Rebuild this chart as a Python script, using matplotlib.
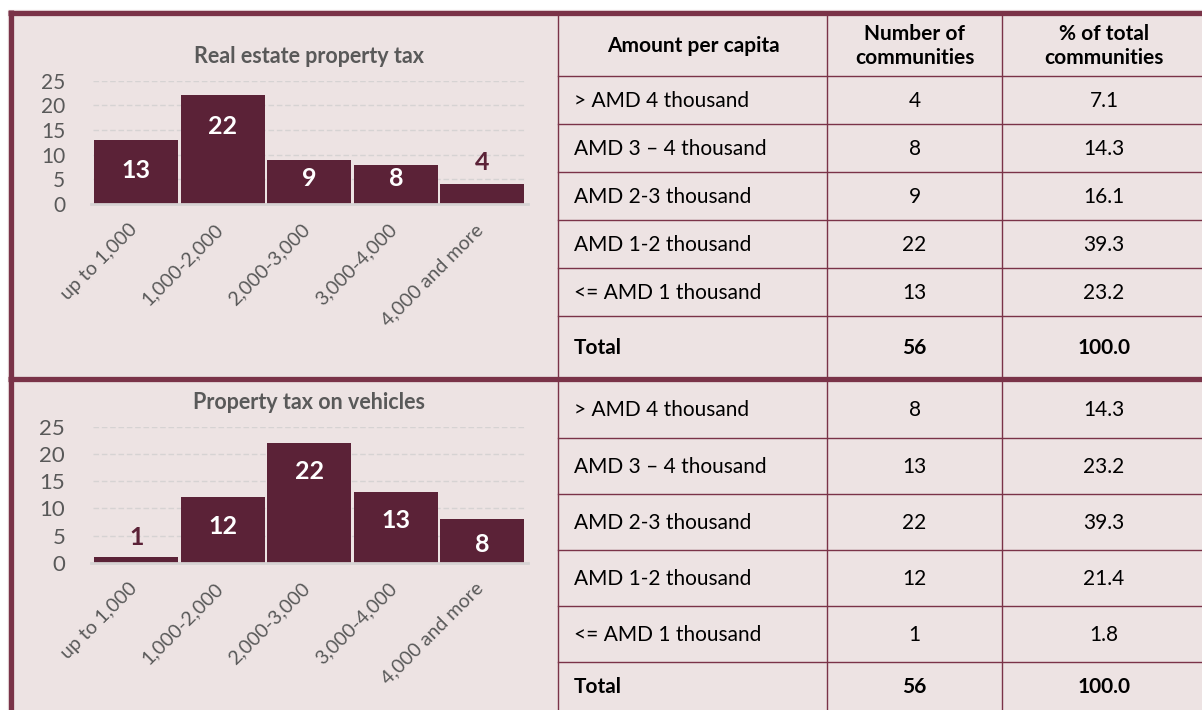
import matplotlib
matplotlib.use("Agg")
import matplotlib.pyplot as plt
import matplotlib.transforms as mtransforms

# ---- data ----
categories = ["up to 1,000", "1,000-2,000", "2,000-3,000", "3,000-4,000", "4,000 and more"]
real_estate_counts = [13, 22, 9, 8, 4]
vehicle_counts = [1, 12, 22, 13, 8]

table_header = ["Amount per capita", "Number of\ncommunities", "% of total\ncommunities"]
row_labels = ["> AMD 4 thousand", "AMD 3 \u2013 4 thousand", "AMD 2-3 thousand",
              "AMD 1-2 thousand", "<= AMD 1 thousand", "Total"]
real_estate_num = ["4", "8", "9", "22", "13", "56"]
real_estate_pct = ["7.1", "14.3", "16.1", "39.3", "23.2", "100.0"]
vehicle_num = ["8", "13", "22", "12", "1", "56"]
vehicle_pct = ["14.3", "23.2", "39.3", "21.4", "1.8", "100.0"]

# ---- style ----
BG = "#EDE3E3"
BAR = "#5B2237"
FRAME = "#7A3348"
GRID = "#D6D3D3"
GREY = "#595959"
W, H = 1202, 710
plt.rcParams["font.family"] = ["Lato", "DejaVu Sans"]

fig = plt.figure(figsize=(W / 100, H / 100), dpi=100)
fig.patch.set_facecolor("white")

# full-figure pixel canvas for frame and table
bg = fig.add_axes([0, 0, 1, 1])
bg.set_xlim(0, W)
bg.set_ylim(H, 0)
bg.axis("off")
bg.add_patch(plt.Rectangle((8, 10), W - 8, H - 10, color=BG, zorder=0))

col_x = [558, 827, 1002, W]
top_rows = [14, 76, 124, 172, 220, 268, 316, 379]
bot_rows = [379, 438, 494, 550, 606, 662, H]

for y in top_rows[1:-1] + bot_rows[1:-1]:
    bg.plot([col_x[0], W], [y, y], color=FRAME, lw=1, zorder=2)
for x in col_x[:-1]:
    bg.plot([x, x], [12, H], color=FRAME, lw=1, zorder=2)

# thick frame lines
bg.plot([8, W], [12.5, 12.5], color=FRAME, lw=3.8, zorder=3, solid_capstyle="butt")
bg.plot([8, W], [379, 379], color=FRAME, lw=3.8, zorder=3, solid_capstyle="butt")
bg.plot([10.5, 10.5], [10, H], color=FRAME, lw=3.8, zorder=3, solid_capstyle="butt")

TFONT = 15
txt_kw = dict(fontsize=TFONT, color="black", zorder=4, va="center")


def draw_table(rows, nums, pcts, label_x=574):
    for i in range(len(row_labels)):
        yc = (rows[i] + rows[i + 1]) / 2 + 1
        weight = "bold" if row_labels[i] == "Total" else "normal"
        bg.text(label_x, yc, row_labels[i], ha="left", fontweight=weight, **txt_kw)
        bg.text((col_x[1] + col_x[2]) / 2, yc, nums[i], ha="center", fontweight=weight, **txt_kw)
        bg.text((col_x[2] + col_x[3]) / 2 + 2, yc, pcts[i], ha="center", fontweight=weight, **txt_kw)


# header row
hy = (top_rows[0] + top_rows[1]) / 2 + 1
bg.text(693, hy, table_header[0], ha="center", fontweight="bold", **txt_kw)
bg.text((col_x[1] + col_x[2]) / 2, hy, table_header[1], ha="center", fontweight="bold",
        linespacing=1.25, **txt_kw)
bg.text((col_x[2] + col_x[3]) / 2 + 2, hy, table_header[2], ha="center", fontweight="bold",
        linespacing=1.25, **txt_kw)

draw_table(top_rows[1:], real_estate_num, real_estate_pct)
draw_table(bot_rows, vehicle_num, vehicle_pct)


def draw_chart(values, title, y_top, y_zero, inset, floor, above, tick_size):
    x0, x1 = 93, 525.5
    ax = fig.add_axes([x0 / W, 1 - y_zero / H, (x1 - x0) / W, (y_zero - y_top) / H])
    ax.set_facecolor("none")
    ax.set_xlim(-0.5, len(values) - 0.5)
    ax.set_ylim(0, 25)
    for s in ax.spines.values():
        s.set_visible(False)
    for g in range(5, 30, 5):
        ax.axhline(g, color=GRID, lw=1, ls=(0, (4, 2)), zorder=1)
    ax.axhline(0, color=GRID, lw=2, zorder=3, xmin=-0.005, xmax=1.005, clip_on=False)
    xs = range(len(values))
    ax.bar(xs, values, width=0.975, color=BAR, zorder=2)
    for x, v in zip(xs, values):
        if v < 5:
            ax.text(x, v + above, str(v), ha="center", va="center", color=BAR,
                    fontsize=18, fontweight="bold", zorder=4)
        else:
            ax.text(x, max(v - inset, floor), str(v), ha="center", va="center", color="white",
                    fontsize=18, fontweight="bold", zorder=4)
    ax.set_yticks(range(0, 30, 5))
    ax.set_yticklabels([str(t) for t in range(0, 30, 5)], fontsize=tick_size, color=GREY)
    ax.set_xticks(list(xs))
    ax.set_xticklabels(categories, rotation=45, ha="right", va="top", rotation_mode="anchor",
                       fontsize=14, color=GREY)
    ax.tick_params(axis="y", length=0, pad=20)
    ax.tick_params(axis="x", length=0, pad=12)
    shift = mtransforms.ScaledTranslation(-8 / 100, 0, fig.dpi_scale_trans)
    for lab in ax.get_xticklabels():
        lab.set_transform(lab.get_transform() + shift)
    ax.set_title(title, fontsize=15.5, color=GREY, fontweight="bold", pad=13)
    return ax


draw_chart(real_estate_counts, "Real estate property tax", 80.7, 204, 6.3, 5.25, 4.5, 15)
draw_chart(vehicle_counts, "Property tax on vehicles", 426.7, 562.7, 5.3, 3.4, 3.7, 16)

fig.savefig("out.png", dpi=100, facecolor=fig.get_facecolor())
